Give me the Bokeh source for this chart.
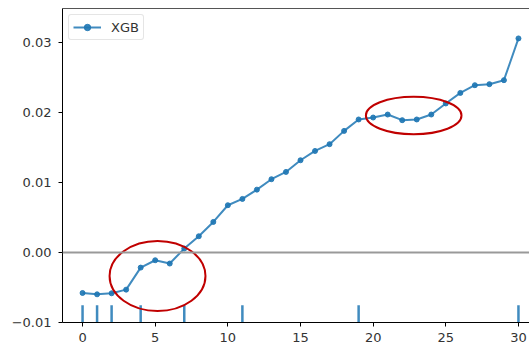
from bokeh.plotting import figure
from bokeh.models import Range1d, FixedTicker, CustomJSTickFormatter, Span, LinearAxis
from bokeh.embed import file_html
from bokeh.resources import INLINE

# ---- data ----
x_vals = list(range(31))
xgb = [-0.00578, -0.00597, -0.00582, -0.00530, -0.00215, -0.00110, -0.00157,
       0.00057, 0.00233, 0.00438, 0.00677, 0.00767, 0.00900, 0.01049, 0.01153,
       0.01320, 0.01453, 0.01550, 0.01740, 0.01903, 0.01931, 0.01974, 0.01893,
       0.01903, 0.01974, 0.02132, 0.02283, 0.02393, 0.02408, 0.02465, 0.03062]
rug_x = [0, 1, 2, 4, 7, 11, 19, 30]
x_ticks = [0, 5, 10, 15, 20, 25, 30]
y_ticks = [-0.01, 0.0, 0.01, 0.02, 0.03]
series_label = "XGB"

# annotation ellipses (centre x, centre y, width, height)
ell_x = [5.16, 22.79]
ell_y = [-0.00335, 0.0196]
ell_w = [6.6, 6.58]
ell_h = [0.0100, 0.00534]

BLUE = "#1f77b4"
FONT = "DejaVu Sans"

p = figure(frame_width=467, frame_height=314, output_backend="svg",
           toolbar_location=None,
           x_range=Range1d(-1.38, 30.76), y_range=Range1d(-0.01, 0.0349),
           min_border_left=62, min_border_top=8, min_border_right=0,
           min_border_bottom=20)
p.outline_line_color = None
p.background_fill_color = "white"
p.border_fill_color = "white"
p.xgrid.visible = False
p.ygrid.visible = False

# zero line
p.add_layout(Span(location=0, dimension="width", line_color="#999999", line_width=2))

# rug
rug_bottom = [-0.01] * len(rug_x)
rug_top = [-0.00754] * len(rug_x)
p.segment(x0=rug_x, y0=rug_bottom, x1=rug_x, y1=rug_top, line_color=BLUE,
          line_width=2.5, line_alpha=0.85)

# series
p.line(x_vals, xgb, line_color=BLUE, line_width=2, line_alpha=0.85, legend_label=series_label)
p.scatter(x_vals, xgb, size=5, fill_color=BLUE, line_color=BLUE, alpha=0.9,
          legend_label=series_label)

# annotation ellipses
p.ellipse(x=ell_x, y=ell_y, width=ell_w, height=ell_h, fill_color=None,
          line_color="#c00000", line_width=2)

# axes
for ax in (p.xaxis[0], p.yaxis[0]):
    ax.axis_line_color = "black"
    ax.axis_line_width = 1
    ax.major_tick_line_color = "black"
    ax.major_tick_out = 4
    ax.major_tick_in = 0
    ax.minor_tick_line_color = None
    ax.major_label_text_font = FONT
    ax.major_label_text_font_size = "13px"
    ax.major_label_text_color = "#333333"

p.xaxis[0].ticker = FixedTicker(ticks=x_ticks)
p.xaxis[0].major_label_standoff = 6
p.yaxis[0].ticker = FixedTicker(ticks=y_ticks)
p.yaxis[0].major_label_standoff = 7
p.yaxis[0].formatter = CustomJSTickFormatter(
    code="var s = Math.abs(tick) < 1e-9 ? '0.00' : tick.toFixed(2); return s.replace('-', '\u2212');")

# top spine
top = LinearAxis(major_tick_line_color=None, minor_tick_line_color=None,
                 major_label_text_font_size="0px", axis_line_color="#555555",
                 major_label_standoff=0)
top.ticker = FixedTicker(ticks=[])
p.add_layout(top, "above")

# legend
lg = p.legend[0]
lg.location = "top_left"
lg.margin = 6
lg.padding = 4
lg.spacing = 0
lg.glyph_width = 28
lg.glyph_height = 16
lg.label_standoff = 10
lg.label_text_font = FONT
lg.label_text_font_size = "13px"
lg.label_text_color = "#333333"
lg.border_line_color = "#cccccc"
lg.border_line_width = 1
lg.border_radius = 3
lg.background_fill_alpha = 0.9

open("out.html", "w").write(file_html(p, INLINE))
